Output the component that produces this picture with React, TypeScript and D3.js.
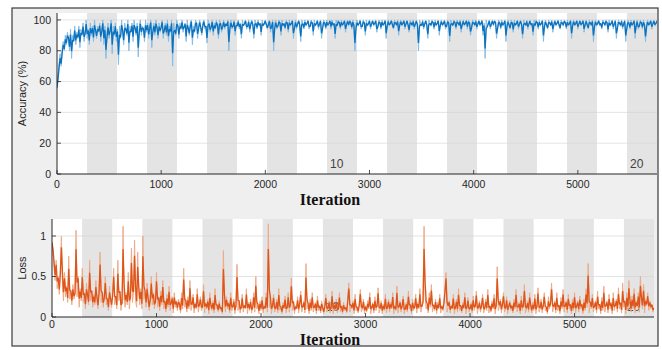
import * as d3 from "d3"

// training progress, one raw reading every 10 iterations (rows = 200 iterations)
const ITER_STEP = 10
const ITER_MAX = 5760
const EPOCHS = 20
const EPOCH_LABELS = [10, 20]
const X_TICKS = [0, 1000, 2000, 3000, 4000, 5000]
const ACC_TICKS = [0, 20, 40, 60, 80, 100]
const LOSS_TICKS = [0, 0.5, 1]

const ACC_RAW = [
  56, 64, 72, 78, 70, 82, 86, 80, 90, 84, 92, 88, 80, 94, 75, 90, 86, 96, 84, 92,
  88, 96, 82, 94, 90, 98, 86, 92, 100, 88, 94, 84, 98, 90, 96, 86, 100, 92, 88, 96,
  92, 98, 86, 94, 100, 84, 96, 75, 92, 98, 88, 94, 100, 78, 96, 90, 98, 86, 94, 71,
  96, 88, 100, 92, 84, 98, 94, 90, 100, 80, 96, 92, 98, 86, 100, 94, 90, 98, 76, 96,
  100, 90, 96, 94, 86, 100, 92, 98, 88, 96, 100, 82, 94, 98, 90, 100, 94, 88, 98, 92,
  96, 100, 88, 94, 98, 90, 100, 86, 96, 92, 100, 70, 98, 94, 90, 100, 96, 88, 98, 94,
  100, 92, 96, 98, 86, 100, 94, 90, 98, 100, 84, 96, 92, 100, 98, 88, 96, 100, 94, 90,
  98, 100, 94, 96, 85, 100, 98, 92, 96, 100, 90, 98, 94, 100, 96, 88, 100, 98, 92, 96,
  100, 94, 98, 96, 100, 80, 98, 100, 94, 96, 100, 90, 98, 96, 100, 94, 98, 88, 100, 96,
  98, 100, 94, 96, 100, 92, 98, 100, 96, 88, 100, 98, 94, 100, 96, 98, 90, 100, 96, 98,
  100, 96, 94, 98, 100, 92, 96, 100, 80, 98, 100, 94, 96, 100, 98, 90, 100, 96, 98, 94,
  100, 98, 92, 100, 96, 98, 100, 88, 96, 100, 94, 98, 100, 96, 86, 100, 98, 94, 100, 96,
  98, 100, 94, 96, 100, 98, 90, 100, 96, 98, 100, 94, 98, 100, 88, 96, 100, 98, 94, 100,
  96, 98, 100, 94, 100, 96, 98, 88, 100, 96, 100, 98, 94, 100, 96, 98, 100, 92, 98, 100,
  96, 100, 98, 94, 100, 96, 80, 98, 100, 96, 98, 100, 94, 96, 100, 98, 90, 100, 96, 98,
  100, 94, 98, 100, 96, 98, 100, 92, 96, 100, 98, 94, 100, 96, 98, 100, 88, 98, 100, 96,
  98, 100, 96, 94, 100, 98, 96, 100, 90, 98, 100, 96, 98, 100, 94, 98, 100, 96, 92, 100,
  98, 96, 100, 94, 98, 100, 96, 80, 100, 98, 96, 100, 94, 98, 100, 96, 88, 100, 98, 96,
  100, 98, 94, 100, 96, 98, 100, 90, 98, 100, 96, 98, 100, 94, 96, 100, 98, 86, 100, 98,
  96, 100, 98, 94, 100, 98, 96, 100, 92, 98, 100, 96, 98, 100, 94, 100, 98, 90, 96, 100,
  98, 96, 100, 94, 98, 100, 96, 98, 100, 90, 98, 75, 100, 96, 98, 100, 94, 98, 100, 96,
  100, 98, 88, 96, 100, 98, 94, 100, 96, 98, 100, 86, 98, 100, 96, 94, 100, 98, 92, 100,
  96, 98, 100, 94, 98, 100, 96, 88, 100, 98, 96, 100, 94, 98, 100, 96, 98, 90, 100, 96,
  100, 98, 94, 100, 96, 98, 100, 86, 98, 100, 96, 94, 100, 98, 96, 100, 92, 98, 100, 96,
  98, 100, 96, 94, 100, 98, 96, 100, 98, 94, 100, 96, 98, 100, 88, 98, 100, 96, 98, 100,
  94, 98, 100, 96, 98, 100, 92, 98, 100, 96, 94, 100, 98, 96, 100, 86, 98, 100, 96, 98,
  100, 96, 98, 94, 100, 98, 96, 100, 98, 92, 100, 96, 98, 100, 94, 98, 100, 88, 96, 100,
  98, 96, 100, 94, 98, 100, 86, 96, 100, 98, 94, 100, 96, 98, 100, 88, 98, 100, 94, 96,
  100, 98, 94, 100, 96, 86, 98, 100, 96, 98, 100, 94, 98, 100, 96, 98, 100,
]

const LOSS_RAW = [
  0.92, 0.8, 0.6, 0.45, 0.7, 0.35, 0.5, 0.28, 0.62, 1.0, 0.42, 0.2, 0.55, 0.25, 0.38, 0.18, 0.75, 0.22, 0.32, 0.15,
  0.4, 0.22, 0.3, 1.07, 0.25, 0.5, 0.12, 0.35, 0.2, 0.6, 0.18, 0.3, 0.1, 0.42, 0.25, 0.15, 0.7, 0.2, 0.33, 0.12,
  0.28, 0.15, 0.45, 0.2, 0.1, 0.35, 0.8, 0.18, 0.3, 0.12, 0.25, 0.5, 0.15, 0.22, 0.08, 0.38, 0.2, 0.12, 0.3, 0.6,
  0.15, 0.25, 0.1, 0.7, 0.2, 0.32, 0.08, 0.18, 1.12, 0.22, 0.12, 0.3, 0.15, 0.55, 0.1, 0.25, 0.85, 0.18, 0.3, 0.95,
  0.2, 0.12, 0.8, 0.28, 0.15, 0.35, 0.1, 1.0, 0.22, 0.3, 0.12, 0.42, 0.18, 0.08, 0.25, 0.5, 0.15, 0.3, 0.1, 0.2,
  0.55, 0.12, 0.25, 0.08, 0.32, 0.15, 0.45, 0.1, 0.2, 0.06, 0.28, 0.12, 0.38, 0.08, 0.18, 0.25, 0.05, 0.3, 0.12, 0.2,
  0.08, 0.22, 0.15, 0.05, 0.3, 0.1, 0.6, 0.12, 0.2, 0.06, 0.25, 0.1, 0.45, 0.08, 0.15, 0.28, 0.05, 0.18, 0.1, 0.35,
  0.06, 0.15, 0.25, 0.08, 0.12, 0.4, 0.05, 0.18, 0.1, 0.22, 0.04, 0.3, 0.12, 0.08, 0.2, 0.05, 0.35, 0.1, 0.15, 0.06,
  0.2, 0.08, 0.12, 0.04, 0.82, 0.15, 0.06, 0.25, 0.1, 0.18, 0.05, 0.3, 0.08, 0.12, 0.22, 0.04, 0.15, 0.65, 0.08, 0.2,
  0.05, 0.12, 0.28, 0.06, 0.15, 0.1, 0.35, 0.04, 0.18, 0.08, 0.22, 0.05, 0.12, 0.3, 0.06, 0.5, 0.1, 0.15, 0.04, 0.2,
  0.08, 0.25, 0.05, 0.14, 0.1, 0.3, 0.06, 1.15, 0.12, 0.2, 0.04, 0.15, 0.28, 0.06, 0.1, 0.22, 0.05, 0.35, 0.08, 0.12,
  0.04, 0.18, 0.1, 0.26, 0.05, 0.12, 0.3, 0.06, 0.15, 0.48, 0.08, 0.2, 0.04, 0.14, 0.1, 0.25, 0.05, 0.18, 0.32, 0.06,
  0.12, 0.2, 0.05, 0.66, 0.1, 0.15, 0.04, 0.22, 0.08, 0.3, 0.06, 0.12, 0.18, 0.04, 0.26, 0.08, 0.14, 0.05, 0.2, 0.1,
  0.04, 0.15, 0.28, 0.06, 0.1, 0.2, 0.05, 0.12, 0.32, 0.04, 0.16, 0.08, 0.22, 0.05, 0.1, 0.3, 0.06, 0.14, 0.04, 0.18,
  0.08, 0.12, 0.05, 0.25, 0.42, 0.06, 0.15, 0.1, 0.2, 0.04, 0.28, 0.08, 0.12, 0.05, 0.18, 0.34, 0.06, 0.1, 0.22, 0.04,
  0.14, 0.06, 0.2, 0.1, 0.3, 0.04, 0.12, 0.18, 0.05, 0.25, 0.08, 0.14, 0.36, 0.05, 0.1, 0.2, 0.04, 0.16, 0.08, 0.28,
  0.05, 0.12, 0.22, 0.06, 0.18, 0.1, 0.3, 0.04, 0.14, 0.08, 0.38, 0.05, 0.12, 0.2, 0.06, 0.15, 0.26, 0.04, 0.1, 0.18,
  0.06, 0.32, 0.1, 0.15, 0.04, 0.22, 0.08, 0.12, 0.28, 0.05, 0.18, 0.1, 0.35, 0.06, 0.14, 0.2, 1.12, 0.25, 0.1, 0.15,
  0.05, 0.3, 0.12, 0.4, 0.06, 0.15, 0.08, 0.22, 0.04, 0.18, 0.1, 0.28, 0.05, 0.14, 0.08, 0.2, 0.36, 0.55, 0.06, 0.12,
  0.2, 0.05, 0.15, 0.1, 0.28, 0.04, 0.12, 0.22, 0.06, 0.35, 0.08, 0.14, 0.05, 0.18, 0.1, 0.3, 0.04, 0.12, 0.24, 0.06,
  0.1, 0.18, 0.05, 0.26, 0.08, 0.14, 0.32, 0.04, 0.12, 0.2, 0.06, 0.15, 0.28, 0.05, 0.1, 0.22, 0.08, 0.34, 0.05, 0.14,
  0.06, 0.2, 0.1, 0.28, 0.04, 0.15, 0.62, 0.08, 0.12, 0.22, 0.05, 0.18, 0.3, 0.06, 0.1, 0.25, 0.04, 0.14, 0.2, 0.08,
  0.15, 0.05, 0.22, 0.1, 0.34, 0.06, 0.12, 0.18, 0.04, 0.26, 0.08, 0.14, 0.4, 0.05, 0.1, 0.2, 0.06, 0.3, 0.12, 0.05,
  0.18, 0.08, 0.28, 0.04, 0.14, 0.36, 0.06, 0.1, 0.22, 0.05, 0.15, 0.3, 0.08, 0.12, 0.04, 0.25, 0.1, 0.18, 0.42, 0.06,
  0.12, 0.2, 0.05, 0.3, 0.08, 0.15, 0.04, 0.24, 0.1, 0.34, 0.06, 0.14, 0.2, 0.05, 0.28, 0.1, 0.16, 0.04, 0.22, 0.08,
  0.3, 0.05, 0.14, 0.2, 0.06, 0.26, 0.1, 0.16, 0.04, 0.22, 0.08, 0.35, 0.12, 0.66, 0.05, 0.18, 0.1, 0.28, 0.06, 0.14,
  0.2, 0.05, 0.32, 0.1, 0.16, 0.04, 0.24, 0.08, 0.38, 0.06, 0.14, 0.2, 0.05, 0.28, 0.1, 0.18, 0.04, 0.3, 0.08, 0.15,
  0.22, 0.06, 0.36, 0.1, 0.18, 0.05, 0.42, 0.12, 0.2, 0.04, 0.3, 0.08, 0.45, 0.14, 0.06, 0.26, 0.1, 0.35, 0.05, 0.2,
  0.12, 0.3, 0.06, 0.5, 0.18, 0.1, 0.4, 0.05, 0.22, 0.14, 0.3, 0.08, 0.2, 0.1, 0.16, 0.06, 0.12,
]

const INK = "#262626"
const BAND = "#e4e4e4"
const FONT = "'Liberation Sans', Arial, sans-serif"

// exponential smoothing of the raw readings (dark trace)
function smooth(vals: number[], f = 0.3): number[] {
  const out: number[] = []
  vals.forEach((v, i) => out.push(i === 0 ? v : f * out[i - 1] + (1 - f) * v))
  return out
}

interface PanelProps {
  id: string
  raw: number[]
  left: number
  right: number
  top: number
  bottom: number
  yMax: number
  yTicks: number[]
  yLabel: string
  light: string
  dark: string
  xLabelY: number
  epochY: number
}

function Panel(p: PanelProps) {
  const x = d3.scaleLinear().domain([0, ITER_MAX]).range([p.left, p.right])
  const y = d3.scaleLinear().domain([0, p.yMax]).range([p.bottom, p.top])
  const per = ITER_MAX / EPOCHS
  const line = d3
    .line<number>()
    .x((_, i) => x(i * ITER_STEP))
    .y((d) => y(d))
  const sm = smooth(p.raw)

  return (
    <g>
      <defs>
        <clipPath id={`clip-${p.id}`}>
          <rect x={p.left} y={p.top} width={p.right - p.left} height={p.bottom - p.top} />
        </clipPath>
      </defs>
      <rect x={p.left} y={p.top} width={p.right - p.left} height={p.bottom - p.top} fill="#fff" />
      {d3.range(EPOCHS).map((e) =>
        e % 2 === 1 ? (
          <rect
            key={e}
            x={x(e * per)}
            y={p.top}
            width={x((e + 1) * per) - x(e * per)}
            height={p.bottom - p.top}
            fill={BAND}
          />
        ) : null
      )}
      {p.yTicks.slice(1).map((t) => (
        <line key={t} x1={p.left} x2={p.right} y1={y(t)} y2={y(t)} stroke="#d2d2d2" strokeWidth={0.6} />
      ))}
      {EPOCH_LABELS.map((e) => (
        <text
          key={e}
          x={x((e - 1) * per) + 3}
          y={p.epochY}
          fontFamily={FONT}
          fontSize={12}
          fill="#404040"
        >
          {e}
        </text>
      ))}
      <g clipPath={`url(#clip-${p.id})`}>
        <path d={line(p.raw) ?? ""} fill="none" stroke={p.light} strokeWidth={1} strokeLinejoin="bevel" />
        <path d={line(sm) ?? ""} fill="none" stroke={p.dark} strokeWidth={1.3} strokeLinejoin="bevel" />
      </g>
      <line x1={p.left} x2={p.left} y1={p.top} y2={p.bottom} stroke={INK} strokeWidth={1} />
      <line x1={p.left} x2={p.right} y1={p.bottom} y2={p.bottom} stroke={INK} strokeWidth={1} />
      {X_TICKS.map((t) => (
        <g key={t}>
          <line x1={x(t)} x2={x(t)} y1={p.bottom} y2={p.bottom - 4} stroke={INK} strokeWidth={0.8} />
          <text
            x={x(t)}
            y={p.xLabelY}
            textAnchor="middle"
            fontFamily={FONT}
            fontSize={10.5}
            fill={INK}
          >
            {t}
          </text>
        </g>
      ))}
      {p.yTicks.map((t) => (
        <g key={t}>
          <line x1={p.left} x2={p.left + 4} y1={y(t)} y2={y(t)} stroke={INK} strokeWidth={0.8} />
          <text
            x={p.left - 6}
            y={y(t)}
            dy="0.35em"
            textAnchor="end"
            fontFamily={FONT}
            fontSize={10.5}
            fill={INK}
          >
            {t}
          </text>
        </g>
      ))}
      <text
        transform={`translate(26, ${(p.top + p.bottom) / 2}) rotate(-90)`}
        textAnchor="middle"
        fontFamily={FONT}
        fontSize={11}
        fill={INK}
      >
        {p.yLabel}
      </text>
    </g>
  )
}

export default function App() {
  return (
    <svg
      width={662}
      height={350}
      style={{ position: "absolute", left: 0, top: 0, background: "#fff" }}
    >
      <rect x={12} y={8} width={646} height={338} fill="#efefef" stroke="#3a3a3a" strokeWidth={1.2} />
      <Panel
        id="acc"
        raw={ACC_RAW}
        left={57}
        right={657}
        top={13}
        bottom={174}
        yMax={104.5}
        yTicks={ACC_TICKS}
        yLabel="Accuracy (%)"
        light="#86bce3"
        dark="#0b72c0"
        xLabelY={188}
        epochY={168}
      />
      <Panel
        id="loss"
        raw={LOSS_RAW}
        left={52}
        right={654}
        top={219}
        bottom={317}
        yMax={1.21}
        yTicks={LOSS_TICKS}
        yLabel="Loss"
        light="#eeaa88"
        dark="#df5418"
        xLabelY={328}
        epochY={311}
      />
      <text x={330} y={205} textAnchor="middle" fontFamily="'Liberation Serif', 'Times New Roman', serif" fontWeight="bold" fontSize={16} fill="#111">
        Iteration
      </text>
      <text x={330} y={345} textAnchor="middle" fontFamily="'Liberation Serif', 'Times New Roman', serif" fontWeight="bold" fontSize={16} fill="#111">
        Iteration
      </text>
    </svg>
  )
}
